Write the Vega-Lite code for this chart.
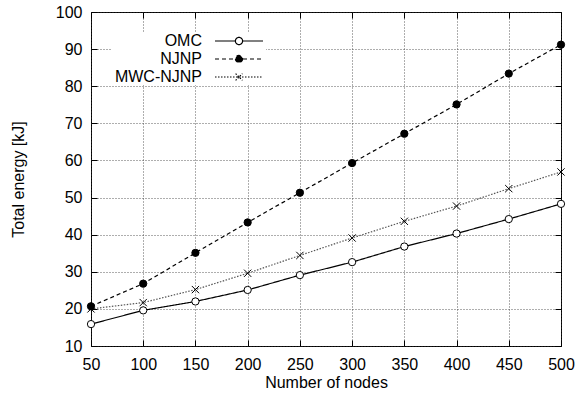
{
  "$schema": "https://vega.github.io/schema/vega-lite/v6.json",
  "width": 470,
  "height": 334,
  "autosize": "none",
  "padding": {"left": 91, "top": 12, "right": 18, "bottom": 55},
  "background": "white",
  "config": {
    "view": {"stroke": "black", "strokeWidth": 1},
    "font": "Liberation Sans",
    "axis": {
      "labelFont": "Liberation Sans",
      "labelFontSize": 16,
      "labelColor": "black",
      "labelFlush": false,
      "titleFont": "Liberation Sans",
      "titleFontSize": 16,
      "titleFontWeight": "normal",
      "titleColor": "black",
      "domain": false,
      "tickColor": "black",
      "tickWidth": 1,
      "gridColor": "#333",
      "gridDash": [1, 2],
      "gridWidth": 0.8,
      "gridOpacity": 1
    }
  },
  "data": {
    "values": [
      {"nodes": 50, "energy": 15.9, "series": "OMC"},
      {"nodes": 100, "energy": 19.6, "series": "OMC"},
      {"nodes": 150, "energy": 22.0, "series": "OMC"},
      {"nodes": 200, "energy": 25.1, "series": "OMC"},
      {"nodes": 250, "energy": 29.1, "series": "OMC"},
      {"nodes": 300, "energy": 32.6, "series": "OMC"},
      {"nodes": 350, "energy": 36.8, "series": "OMC"},
      {"nodes": 400, "energy": 40.3, "series": "OMC"},
      {"nodes": 450, "energy": 44.2, "series": "OMC"},
      {"nodes": 500, "energy": 48.3, "series": "OMC"},
      {"nodes": 50, "energy": 20.7, "series": "NJNP"},
      {"nodes": 100, "energy": 26.8, "series": "NJNP"},
      {"nodes": 150, "energy": 35.1, "series": "NJNP"},
      {"nodes": 200, "energy": 43.3, "series": "NJNP"},
      {"nodes": 250, "energy": 51.3, "series": "NJNP"},
      {"nodes": 300, "energy": 59.3, "series": "NJNP"},
      {"nodes": 350, "energy": 67.2, "series": "NJNP"},
      {"nodes": 400, "energy": 75.1, "series": "NJNP"},
      {"nodes": 450, "energy": 83.4, "series": "NJNP"},
      {"nodes": 500, "energy": 91.2, "series": "NJNP"},
      {"nodes": 50, "energy": 20.0, "series": "MWC-NJNP"},
      {"nodes": 100, "energy": 21.7, "series": "MWC-NJNP"},
      {"nodes": 150, "energy": 25.2, "series": "MWC-NJNP"},
      {"nodes": 200, "energy": 29.6, "series": "MWC-NJNP"},
      {"nodes": 250, "energy": 34.4, "series": "MWC-NJNP"},
      {"nodes": 300, "energy": 39.1, "series": "MWC-NJNP"},
      {"nodes": 350, "energy": 43.6, "series": "MWC-NJNP"},
      {"nodes": 400, "energy": 47.7, "series": "MWC-NJNP"},
      {"nodes": 450, "energy": 52.4, "series": "MWC-NJNP"},
      {"nodes": 500, "energy": 56.9, "series": "MWC-NJNP"}
    ]
  },
  "layer": [
    {
      "mark": {"type": "line", "strokeWidth": 1.2},
      "encoding": {
        "x": {
          "field": "nodes", "type": "quantitative",
          "scale": {"domain": [50, 500], "nice": false, "zero": false},
          "axis": {"values": [50, 100, 150, 200, 250, 300, 350, 400, 450, 500], "title": "Number of nodes", "ticks": false, "labelPadding": 10, "titlePadding": 2, "grid": true}
        },
        "y": {
          "field": "energy", "type": "quantitative",
          "scale": {"domain": [10, 100], "nice": false, "zero": false},
          "axis": {"values": [10, 20, 30, 40, 50, 60, 70, 80, 90, 100], "title": "Total energy [kJ]", "ticks": false, "labelPadding": 9, "titlePadding": 29, "grid": true}
        },
        "color": {
          "field": "series", "type": "nominal",
          "scale": {"domain": ["MWC-NJNP", "NJNP", "OMC"], "range": ["#555555", "#000000", "#000000"]},
          "legend": null
        },
        "strokeDash": {
          "field": "series", "type": "nominal",
          "scale": {"domain": ["OMC", "NJNP", "MWC-NJNP"], "range": [[1, 0], [4, 3], [1.5, 1.5]]},
          "legend": {
            "orient": "none", "legendX": 21, "legendY": 21, "title": null,
            "direction": "vertical",
            "labelAlign": "right", "labelOffset": -45, "symbolOffset": 119,
            "labelFont": "Liberation Sans", "labelFontSize": 16, "labelColor": "black",
            "padding": 0, "rowPadding": 2, "fillColor": "white",
            "symbolType": {"expr": "datum.value === 'OMC' ? 'M-6,0L-0.9,0M0.9,0L6,0M0.9,0A0.9,0.9,0,1,1,-0.9,0A0.9,0.9,0,1,1,0.9,0' : datum.value === 'NJNP' ? 'M-6,0L6,0M0.9,0A0.9,0.9,0,1,1,-0.9,0A0.9,0.9,0,1,1,0.9,0' : 'M-6,0L6,0M-0.85,-0.85L0.85,0.85M-0.85,0.85L0.85,-0.85'"},
            "symbolFillColor": {"expr": "datum.value === 'OMC' ? 'white' : datum.value === 'NJNP' ? 'black' : 'transparent'"},
            "symbolSize": 64, "symbolStrokeWidth": 1.2, "symbolStrokeColor": "black", "symbolOpacity": 1
          }
        }
      }
    },
    {
      "mark": {"type": "point", "filled": true, "stroke": "black", "strokeWidth": 1, "size": 53, "opacity": 1},
      "encoding": {
        "x": {"field": "nodes", "type": "quantitative", "axis": null},
        "y": {"field": "energy", "type": "quantitative", "axis": null},
        "shape": {
          "field": "series", "type": "nominal",
          "scale": {"domain": ["NJNP", "OMC", "MWC-NJNP"], "range": ["circle", "circle", "M-1,-1L1,1M-1,1L1,-1"]},
          "legend": null
        },
        "fill": {
          "field": "series", "type": "nominal",
          "scale": {"domain": ["OMC", "MWC-NJNP", "NJNP"], "range": ["white", "transparent", "black"]},
          "legend": null
        }
      }
    },
    {
      "mark": {"type": "point", "opacity": 0},
      "encoding": {
        "x": {"field": "nodes", "type": "quantitative", "axis": {"orient": "top", "values": [50, 100, 150, 200, 250, 300, 350, 400, 450, 500], "labels": false, "title": null, "grid": false, "tickSize": -6}},
        "y": {"field": "energy", "type": "quantitative", "axis": {"orient": "right", "values": [10, 20, 30, 40, 50, 60, 70, 80, 90, 100], "labels": false, "title": null, "grid": false, "tickSize": -6}}
      }
    },
    {
      "mark": {"type": "point", "opacity": 0},
      "encoding": {
        "x": {"field": "nodes", "type": "quantitative", "axis": {"orient": "bottom", "values": [50, 100, 150, 200, 250, 300, 350, 400, 450, 500], "labels": false, "title": null, "grid": false, "tickSize": -6}},
        "y": {"field": "energy", "type": "quantitative", "axis": {"orient": "left", "values": [10, 20, 30, 40, 50, 60, 70, 80, 90, 100], "labels": false, "title": null, "grid": false, "tickSize": -6}}
      }
    }
  ],
  "resolve": {"axis": {"x": "independent", "y": "independent"}}
}
